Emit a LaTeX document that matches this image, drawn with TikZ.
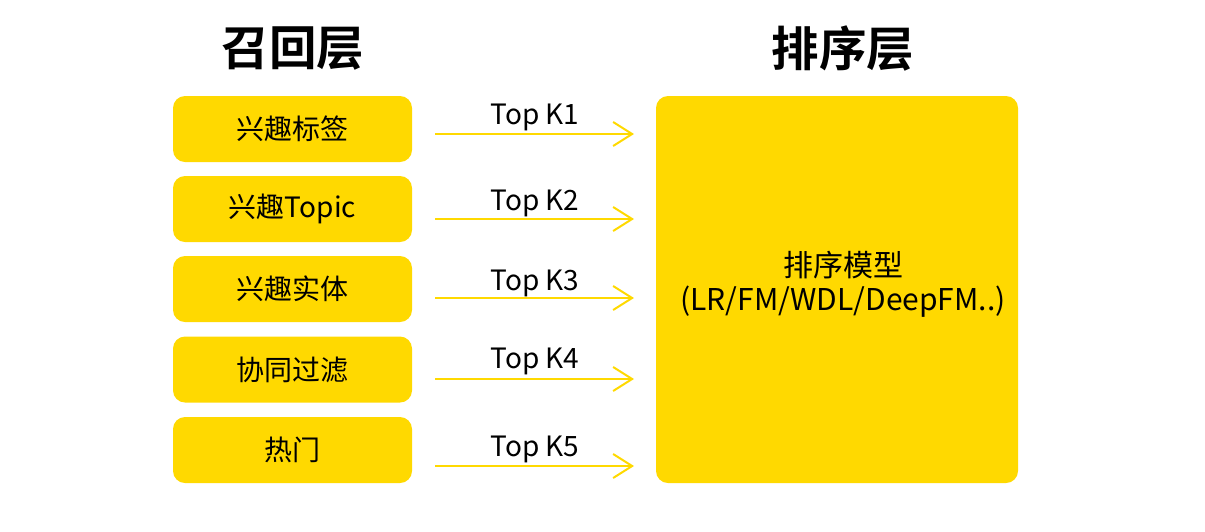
\documentclass[tikz,border=0pt]{standalone}
\usepackage{fontspec}
\setmainfont{Noto Sans CJK SC}
\newfontfamily\cjkbold{Noto Sans CJK SC Bold}
\definecolor{gold}{RGB}{255,217,0}
\begin{document}
\begin{tikzpicture}[x=1pt,y=-1pt,
  recallbox/.style={fill=gold,rounded corners=12pt,minimum width=239pt,minimum height=66pt,inner sep=0pt,font=\fontsize{28}{32}\selectfont},
  title/.style={font=\cjkbold\fontsize{47.5}{50}\selectfont},
  flow/.style={draw=gold,line width=2pt,-{Straight Barb[length=19pt,width=24pt,line width=2pt]}},
  lbl/.style={font=\fontsize{28}{32}\selectfont,anchor=base}]
\useasboundingbox (0,0) rectangle (1205,531);
\usetikzlibrary{arrows.meta}
\node[title] (t1) at (293,49) {召回层};
\node[title] (t2) at (843,49) {排序层};
\node[recallbox] (b1) at (292.5,129) {兴趣标签};
\node[recallbox] (b2) at (292.5,209) {兴趣Topic};
\node[recallbox] (b3) at (292.5,289) {兴趣实体};
\node[recallbox] (b4) at (292.5,369.5) {协同过滤};
\node[recallbox] (b5) at (292.5,450) {热门};
\node[fill=gold,rounded corners=12pt,minimum width=362pt,minimum height=387pt,inner sep=0pt] (r) at (837,289.5) {};
\node[font=\fontsize{30}{34}\selectfont,align=center] (rt) at (843,284) {排序模型\\(LR/FM/WDL/DeepFM..)};
\foreach \i/\y/\ly in {1/134/124,2/219/210,3/298/290,4/379/368,5/466/456}{
  \coordinate (s\i) at (435,\y);
  \coordinate (e\i) at (634,\y);
  \draw[flow] (s\i) -- (e\i);
  \node[lbl] (k\i) at (535,\ly) {Top K\i};
}
\end{tikzpicture}
\end{document}
